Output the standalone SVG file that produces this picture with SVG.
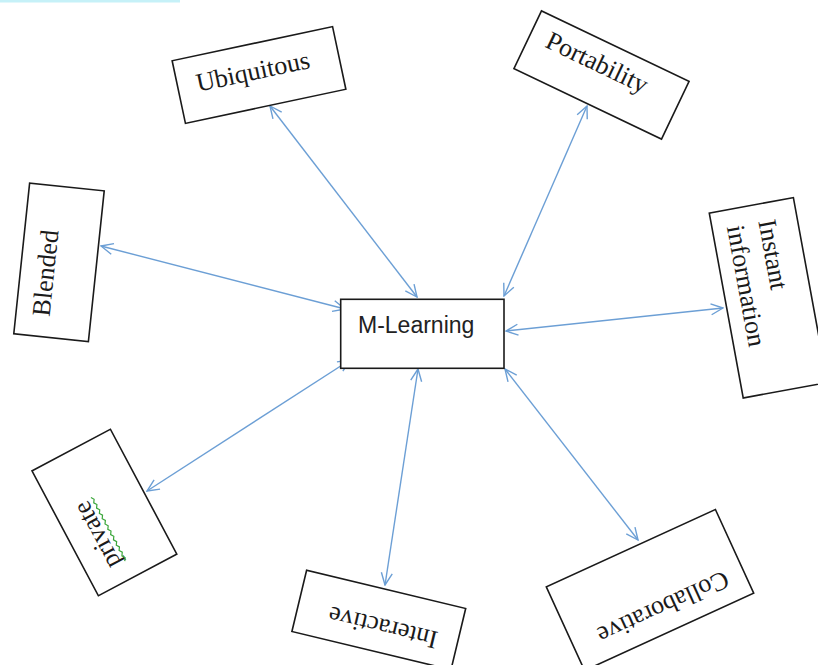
<svg xmlns="http://www.w3.org/2000/svg" width="818" height="665" viewBox="0 0 818 665">
<style>
.box{fill:#fff;stroke:#1a1a1a;stroke-width:1.6}
.lbl{font-family:"Liberation Serif","Times New Roman",serif;font-size:26px;fill:#1a1a1a}
.c{text-anchor:middle}
.conn{stroke:#6c9fd5;stroke-width:1.4;fill:none;marker-start:url(#ah);marker-end:url(#ah)}
.main{font-family:"Liberation Sans",Arial,sans-serif;font-size:23px;fill:#222}
</style>
<defs>
<marker id="ah" viewBox="0 0 14 14" refX="13" refY="7" markerWidth="14" markerHeight="14" markerUnits="userSpaceOnUse" orient="auto-start-reverse">
<path d="M1,1.5 L13,7 L1,12.5" fill="none" stroke="#6c9fd5" stroke-width="1.4"/>
</marker>
</defs>
<rect width="818" height="665" fill="#fff"/>
<rect x="0" y="0" width="180" height="2.5" fill="#c6f1f8"/>

<g id="connectors">
<line class="conn" x1="270" y1="106" x2="417" y2="297"/>
<line class="conn" x1="587" y1="106" x2="504" y2="296"/>
<line class="conn" x1="101" y1="246" x2="345" y2="309"/>
<line class="conn" x1="723" y1="308" x2="506" y2="331"/>
<line class="conn" x1="147" y1="491" x2="350" y2="360"/>
<line class="conn" x1="385" y1="585" x2="418" y2="369"/>
<line class="conn" x1="638" y1="540" x2="505" y2="369"/>
</g>

<g id="m-learning">
<rect class="box" x="340.7" y="299.3" width="163.3" height="69"/>
<text class="main" x="358" y="333">M-Learning</text>
</g>

<g id="ubiquitous">
<rect class="box" x="-82" y="-32" width="164" height="64" transform="translate(259,75) rotate(-12)"/>
<text class="lbl c" transform="translate(253,72) rotate(-12)" y="8">Ubiquitous</text>
</g>

<g id="portability">
<rect class="box" x="-81.75" y="-32" width="163.5" height="64" transform="translate(601.5,75) rotate(25.5)"/>
<text class="lbl c" transform="translate(597,63) rotate(25.5)" y="8">Portability</text>
</g>

<g id="blended">
<rect class="box" x="-75.75" y="-37.5" width="151.5" height="75" transform="translate(59,262.3) rotate(-84)"/>
<text class="lbl c" transform="translate(46,273) rotate(-84)" y="8">Blended</text>
</g>

<g id="instant-information">
<g transform="translate(768.3,297.8) rotate(79.6)">
<rect class="box" x="-94" y="-42.75" width="188" height="85.5"/>
<text class="lbl" x="-77" y="-4">Instant</text>
<text class="lbl" x="-77" y="28">information</text>
</g>
</g>

<g id="private">
<rect class="box" x="-70.7" y="-44.4" width="141.4" height="88.8" transform="translate(104.4,512.5) rotate(-118)"/>
<g transform="translate(99,534) rotate(-118)">
<text class="lbl c" y="6">private</text>
<path d="M-36,10 l3,2 l3,-2 l3,2 l3,-2 l3,2 l3,-2 l3,2 l3,-2 l3,2 l3,-2 l3,2 l3,-2 l3,2 l3,-2 l3,2 l3,-2 l3,2 l3,-2 l3,2 l3,-2 l3,2 l3,-2 l3,2 l3,-2" fill="none" stroke="#3aa63a" stroke-width="1.2"/>
</g>
</g>

<g id="interactive">
<rect class="box" x="-81.8" y="-31.5" width="163.6" height="63" transform="translate(378.8,620) rotate(13.5)"/>
<text class="lbl c" transform="translate(383,627) rotate(193.5)" y="8">Interactive</text>
</g>

<g id="collaborative">
<rect class="box" x="-93" y="-46" width="186" height="92" transform="translate(650,590) rotate(-24.6)"/>
<text class="lbl c" transform="translate(663,607) rotate(155.4)" y="8">Collaborative</text>
</g>
</svg>
